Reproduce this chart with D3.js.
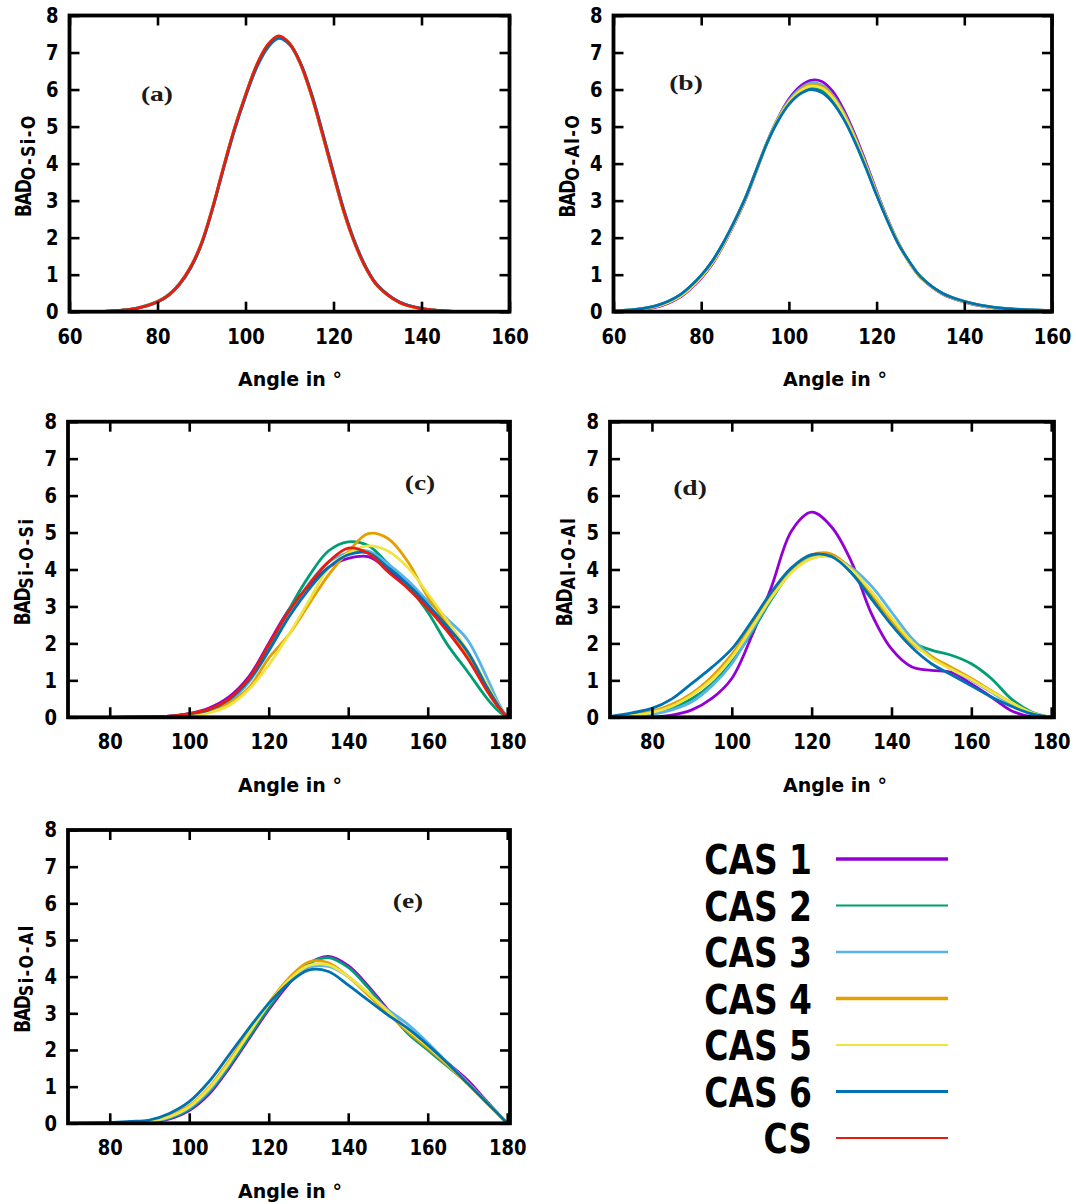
<!DOCTYPE html>
<html>
<head>
<meta charset="utf-8">
<script src="https://cdn.jsdelivr.net/npm/d3@7"></script>
<style>
body { margin: 0; background: #fff; }
svg text { font-family: "DejaVu Sans", Verdana, sans-serif; font-weight: bold; fill: #000; }
</style>
</head>
<body>
<svg id="chart" width="1076" height="1204"></svg>
<script>
// series names, same order in every panel (CS drawn last, on top)
var seriesNames = ["CAS 1", "CAS 2", "CAS 3", "CAS 4", "CAS 5", "CAS 6", "CS"];
var seriesColors = ["#9400d3", "#009e73", "#56b4e9", "#e69f00", "#f0e442", "#0072b2", "#e51e10"];

var yTicks = [0, 1, 2, 3, 4, 5, 6, 7, 8];
var xTicksTop = [60, 80, 100, 120, 140, 160];
var xTicksBottom = [80, 100, 120, 140, 160, 180];

// (a) O-Si-O
var gridA = [60,65,70,75,80,82.5,85,87.5,90,92.5,95,97.5,100,102.5,105,107.5,110,112.5,115,117.5,120,122.5,125,127.5,130,135,140,145,150,160];
var badA = [
  [0,0,0.02,0.08,0.26,0.44,0.74,1.18,1.83,2.78,3.88,4.93,5.83,6.63,7.17,7.42,7.23,6.7,5.86,4.82,3.72,2.67,1.82,1.16,0.71,0.26,0.08,0.02,0,0],
  [0,0,0.02,0.09,0.28,0.46,0.76,1.21,1.86,2.81,3.91,4.96,5.86,6.65,7.19,7.43,7.23,6.68,5.83,4.78,3.68,2.63,1.79,1.14,0.69,0.25,0.08,0.02,0,0],
  [0,0,0.02,0.08,0.27,0.45,0.75,1.19,1.84,2.79,3.89,4.94,5.84,6.64,7.18,7.43,7.24,6.7,5.85,4.81,3.71,2.66,1.81,1.15,0.7,0.25,0.08,0.02,0,0],
  [0,0,0.02,0.08,0.27,0.45,0.75,1.2,1.85,2.8,3.9,4.95,5.85,6.65,7.2,7.44,7.24,6.69,5.84,4.79,3.69,2.64,1.8,1.15,0.7,0.25,0.08,0.02,0,0],
  [0,0,0.02,0.08,0.26,0.44,0.74,1.19,1.84,2.79,3.89,4.94,5.84,6.63,7.18,7.42,7.23,6.7,5.86,4.81,3.71,2.66,1.81,1.16,0.71,0.25,0.08,0.02,0,0],
  [0,0,0.02,0.08,0.26,0.44,0.73,1.17,1.82,2.77,3.86,4.9,5.8,6.58,7.12,7.38,7.22,6.72,5.9,4.86,3.76,2.7,1.84,1.18,0.72,0.26,0.09,0.02,0,0],
  [0,0,0.02,0.08,0.27,0.45,0.75,1.2,1.85,2.8,3.9,4.95,5.85,6.65,7.2,7.45,7.25,6.7,5.85,4.8,3.7,2.65,1.8,1.15,0.7,0.25,0.08,0.02,0,0]
];

// (b) O-Al-O (no CS)
var gridB = [60,65,70,72.5,75,77.5,80,82.5,85,87.5,90,92.5,95,97.5,100,102.5,105,107.5,110,112.5,115,117.5,120,122.5,125,127.5,130,135,140,145,150,155,160];
var badB = [
  [0.01,0.04,0.13,0.23,0.38,0.61,0.9,1.28,1.78,2.36,3.0,3.77,4.56,5.22,5.74,6.08,6.25,6.22,5.95,5.45,4.8,4.05,3.25,2.5,1.85,1.32,0.93,0.48,0.26,0.13,0.07,0.04,0.02],
  [0.02,0.06,0.17,0.28,0.44,0.68,0.98,1.36,1.85,2.42,3.06,3.81,4.56,5.17,5.63,5.93,6.05,5.98,5.71,5.25,4.64,3.93,3.17,2.46,1.83,1.33,0.94,0.5,0.28,0.15,0.08,0.05,0.03],
  [0.02,0.05,0.15,0.26,0.42,0.65,0.95,1.33,1.82,2.4,3.04,3.8,4.58,5.22,5.7,6.02,6.18,6.12,5.85,5.38,4.74,4.0,3.22,2.49,1.84,1.33,0.94,0.49,0.27,0.14,0.07,0.04,0.02],
  [0.02,0.05,0.15,0.26,0.41,0.64,0.94,1.32,1.81,2.39,3.03,3.79,4.56,5.2,5.67,5.98,6.13,6.08,5.81,5.34,4.7,3.97,3.2,2.48,1.84,1.33,0.94,0.49,0.27,0.14,0.07,0.04,0.02],
  [0.02,0.05,0.15,0.25,0.4,0.63,0.93,1.31,1.8,2.38,3.02,3.78,4.55,5.18,5.65,5.95,6.09,6.04,5.78,5.31,4.68,3.95,3.18,2.47,1.83,1.32,0.94,0.49,0.27,0.14,0.07,0.04,0.02],
  [0.02,0.06,0.17,0.28,0.44,0.68,0.98,1.36,1.85,2.42,3.05,3.8,4.55,5.15,5.6,5.88,6.0,5.92,5.65,5.2,4.6,3.9,3.15,2.45,1.82,1.35,0.95,0.5,0.28,0.15,0.08,0.05,0.03],
  null
];

// (c) Si-O-Si
var gridC = [70,80,90,95,100,105,110,115,120,125,130,135,140,145,150,155,160,165,170,175,178,180];
var badC = [
  [0,0,0.01,0.03,0.1,0.25,0.55,1.1,2.0,2.9,3.55,4.05,4.3,4.35,4.0,3.55,3.0,2.4,1.7,0.8,0.3,0],
  [0,0,0.01,0.02,0.08,0.2,0.48,1.0,1.9,2.9,3.8,4.5,4.75,4.65,4.15,3.55,2.85,1.96,1.24,0.5,0.15,0],
  [0,0,0,0.02,0.06,0.18,0.42,0.95,1.8,2.75,3.6,4.2,4.45,4.5,4.15,3.7,3.15,2.65,2.1,1.05,0.35,0],
  [0,0,0,0.02,0.05,0.15,0.38,0.8,1.6,2.23,3.04,3.85,4.48,4.97,4.84,4.21,3.26,2.5,1.69,0.78,0.25,0],
  [0,0,0,0.01,0.04,0.12,0.32,0.75,1.42,2.23,3.13,4.03,4.44,4.64,4.5,4.05,3.35,2.6,1.8,0.87,0.3,0],
  [0,0,0.01,0.03,0.09,0.2,0.48,1.0,1.8,2.7,3.45,4.05,4.4,4.45,4.05,3.6,3.05,2.45,1.78,0.8,0.28,0],
  [0,0,0.01,0.03,0.1,0.22,0.5,1.05,1.96,2.86,3.58,4.2,4.58,4.44,3.94,3.49,2.95,2.32,1.6,0.7,0.24,0]
];

// (d) Al-O-Al (no CS)
var gridD = [70,75,80,85,90,95,100,105,110,115,120,125,130,135,140,145,150,155,160,165,170,175,180];
var badD = [
  [0,0,0.01,0.06,0.2,0.51,1.05,2.2,3.55,5.05,5.55,5.15,4.2,2.8,1.85,1.37,1.27,1.22,0.9,0.55,0.18,0.02,0],
  [0.01,0.04,0.1,0.25,0.5,0.9,1.5,2.3,3.2,3.95,4.35,4.4,3.95,3.3,2.6,2.05,1.82,1.68,1.45,1.05,0.5,0.15,0],
  [0.01,0.03,0.08,0.2,0.42,0.85,1.45,2.35,3.25,3.95,4.3,4.35,4.05,3.55,2.85,2.15,1.65,1.3,1.0,0.68,0.35,0.1,0],
  [0.02,0.07,0.16,0.35,0.65,1.1,1.7,2.5,3.35,4.0,4.4,4.42,4.0,3.35,2.6,2.0,1.65,1.35,1.05,0.72,0.4,0.12,0],
  [0.01,0.05,0.13,0.3,0.6,1.02,1.62,2.42,3.25,3.92,4.3,4.35,4.0,3.4,2.7,2.05,1.6,1.3,1.02,0.7,0.4,0.13,0],
  [0.03,0.12,0.24,0.5,0.92,1.35,1.85,2.6,3.4,4.05,4.4,4.35,3.9,3.2,2.5,1.9,1.45,1.15,0.85,0.55,0.3,0.1,0],
  null
];

// (e) Si-O-Al (no CS)
var gridE = [70,80,85,90,95,100,105,110,115,120,125,130,135,140,145,150,155,160,165,170,175,180];
var badE = [
  [0,0,0.01,0.03,0.12,0.35,0.8,1.5,2.3,3.1,3.8,4.35,4.55,4.3,3.75,3.1,2.55,2.1,1.65,1.18,0.58,0],
  [0,0,0.01,0.04,0.14,0.38,0.85,1.55,2.35,3.15,3.85,4.35,4.52,4.25,3.7,3.05,2.45,2.0,1.55,1.1,0.55,0],
  [0,0.01,0.02,0.05,0.16,0.42,0.9,1.62,2.45,3.25,3.9,4.25,4.28,4.0,3.55,3.1,2.7,2.2,1.65,1.12,0.56,0],
  [0,0.01,0.03,0.07,0.2,0.48,0.98,1.7,2.5,3.28,3.95,4.4,4.38,4.0,3.5,3.0,2.5,2.05,1.58,1.08,0.54,0],
  [0,0.01,0.02,0.06,0.18,0.45,0.95,1.65,2.45,3.25,3.9,4.3,4.32,4.0,3.55,3.05,2.55,2.1,1.62,1.1,0.55,0],
  [0,0.02,0.05,0.09,0.27,0.59,1.14,1.86,2.59,3.27,3.82,4.18,4.14,3.77,3.36,2.95,2.59,2.14,1.64,1.09,0.55,0],
  null
];

var svg = d3.select("#chart");

// panel layout (pixels)
var panels = [
  {grid: gridA, data: badA, dom: [60, 160], ticks: xTicksTop, left: 69.5, right: 509.5, top: 15.5, bottom: 311.7,
   tag: "(a)", tagX: 157, tagY: 93, sub: "O-Si-O", titleX: 290, titleY: 386},
  {grid: gridB, data: badB, dom: [60, 160], ticks: xTicksTop, left: 613.5, right: 1052, top: 15.5, bottom: 311.7,
   tag: "(b)", tagX: 686, tagY: 82, sub: "O-Al-O", titleX: 835, titleY: 386},
  {grid: gridC, data: badC, dom: [69.5, 180.7], ticks: xTicksBottom, left: 68, right: 510, top: 421.7, bottom: 717.3,
   tag: "(c)", tagX: 420, tagY: 482, sub: "Si-O-Si", titleX: 290, titleY: 792},
  {grid: gridD, data: badD, dom: [69.5, 180.7], ticks: xTicksBottom, left: 610, right: 1054, top: 421.7, bottom: 717.3,
   tag: "(d)", tagX: 690, tagY: 487, sub: "Al-O-Al", titleX: 835, titleY: 792},
  {grid: gridE, data: badE, dom: [69.5, 180.7], ticks: xTicksBottom, left: 68, right: 510, top: 830, bottom: 1123.3,
   tag: "(e)", tagX: 408, tagY: 900, sub: "Si-O-Al", titleX: 290, titleY: 1198}
];

panels.forEach(function(p, pi) {
  var g = svg.append("g");
  var x = d3.scaleLinear().domain(p.dom).range([p.left, p.right]);
  var y = d3.scaleLinear().domain([0, 8]).range([p.bottom, p.top]);

  g.append("clipPath").attr("id", "clip" + pi)
    .append("rect").attr("x", p.left).attr("y", p.top)
    .attr("width", p.right - p.left).attr("height", p.bottom - p.top);

  var line = d3.line()
    .x(function(d) { return x(d[0]); })
    .y(function(d) { return y(d[1]); })
    .curve(d3.curveCatmullRom.alpha(0.5));

  p.data.forEach(function(vals, si) {
    if (!vals) return;
    var pts = vals.map(function(v, i) { return [p.grid[i], v]; });
    g.append("path")
      .attr("d", line(pts))
      .attr("fill", "none")
      .attr("stroke", seriesColors[si])
      .attr("stroke-width", 2.8)
      .attr("stroke-linejoin", "round")
      .attr("clip-path", "url(#clip" + pi + ")");
  });

  // axes, ticks pointing inward on all four sides
  var bottomAx = g.append("g").attr("transform", "translate(0," + p.bottom + ")")
    .call(d3.axisBottom(x).tickValues(p.ticks).tickSize(-10).tickPadding(14));
  var topAx = g.append("g").attr("transform", "translate(0," + p.top + ")")
    .call(d3.axisTop(x).tickValues(p.ticks).tickSize(-10).tickFormat(""));
  var leftAx = g.append("g").attr("transform", "translate(" + p.left + ",0)")
    .call(d3.axisLeft(y).tickValues(yTicks).tickSize(-10).tickPadding(11).tickFormat(d3.format("d")));
  var rightAx = g.append("g").attr("transform", "translate(" + p.right + ",0)")
    .call(d3.axisRight(y).tickValues(yTicks).tickSize(-10).tickFormat(""));

  [bottomAx, topAx, leftAx, rightAx].forEach(function(a) {
    a.select(".domain").remove();
    a.selectAll(".tick line").attr("stroke", "#000").attr("stroke-width", 2.6);
    a.selectAll("text")
      .attr("font-family", "DejaVu Sans, sans-serif")
      .attr("font-weight", "bold")
      .attr("font-size", 18)
      .attr("fill", "#000")
      .attr("transform", "scale(1,1.2)");
  });

  g.append("rect")
    .attr("x", p.left).attr("y", p.top)
    .attr("width", p.right - p.left).attr("height", p.bottom - p.top)
    .attr("fill", "none").attr("stroke", "#000").attr("stroke-width", 3.8);

  // panel tag
  g.append("text")
    .attr("transform", "translate(" + p.tagX + "," + p.tagY + ") scale(1.25,1)")
    .attr("text-anchor", "middle")
    .attr("dy", "0.35em")
    .style("font-family", "'Liberation Serif', 'DejaVu Serif', serif")
    .style("font-size", "22px")
    .style("fill", "#1a1a1a")
    .text(p.tag);

  // x title
  g.append("text")
    .attr("x", p.titleX).attr("y", p.titleY)
    .attr("text-anchor", "middle")
    .style("font-size", "19px")
    .text("Angle in °");

  // y title: BAD with subscript
  var yt = g.append("text")
    .attr("transform", "translate(" + (p.left - 38.5) + "," + ((p.top + p.bottom) / 2 + 2) + ") rotate(-90) scale(1,1.2)")
    .attr("text-anchor", "middle");
  yt.append("tspan").style("font-size", "17px").style("letter-spacing", "-1.2px").text("BAD");
  yt.append("tspan").attr("dy", 3).style("font-size", "16px").style("letter-spacing", "1.4px").text(p.sub);
});

// legend
var legendWidths = [3.5, 2, 2.6, 3.4, 2, 3, 2];
var leg = svg.append("g");
seriesNames.forEach(function(name, i) {
  var ly = 859 + i * 46.5;
  leg.append("line")
    .attr("x1", 836).attr("x2", 948).attr("y1", ly).attr("y2", ly)
    .attr("stroke", seriesColors[i]).attr("stroke-width", legendWidths[i]);
  leg.append("text")
    .attr("transform", "translate(812," + (ly + 15) + ") scale(1.03,1.28)")
    .attr("text-anchor", "end")
    .style("font-size", "32px")
    .text(name);
});
</script>
</body>
</html>
